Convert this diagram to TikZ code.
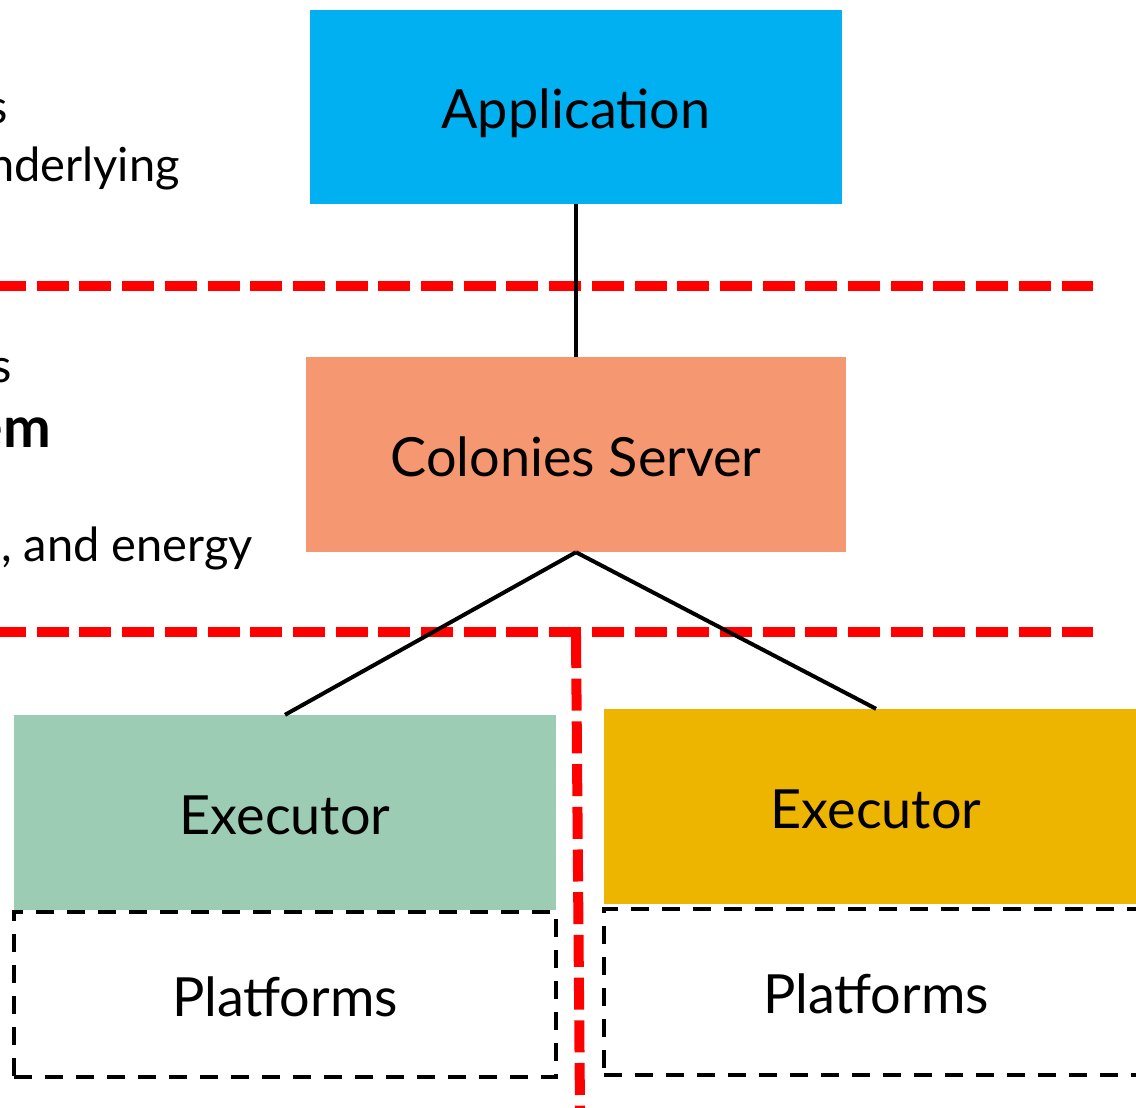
\documentclass[tikz,border=0pt]{standalone}
\usepackage{fontspec}
\setmainfont{Lato}
\definecolor{appblue}{RGB}{0,176,240}
\definecolor{srvorange}{RGB}{245,152,113}
\definecolor{exgreen}{RGB}{157,204,181}
\definecolor{exyellow}{RGB}{237,181,0}
\definecolor{sepred}{RGB}{255,0,0}
\tikzset{
  box/.style={rectangle, draw=none, inner sep=0pt, text height=43pt, text depth=0pt, font=\fontsize{54}{60}\selectfont},
  platbox/.style={rectangle, draw=black, line width=4pt, dash pattern=on 18pt off 13pt, inner sep=0pt, text height=43pt, text depth=0pt, font=\fontsize{54}{60}\selectfont},
  link/.style={draw=black, line width=4pt},
  sep/.style={draw=sepred, line width=10pt, dash pattern=on 32pt off 10.7pt, dash phase=6pt},
  side/.style={inner sep=0pt, anchor=base east, font=\fontsize{47}{52}\selectfont},
}
\begin{document}
\begin{tikzpicture}[x=1pt,y=-1pt]
\useasboundingbox (0,0) rectangle (1136,1108);
\clip (0,0) rectangle (1136,1108);
% separators
\coordinate (s1l) at (0,286);   \coordinate (s1r) at (1093,286);
\coordinate (s2l) at (0,632);   \coordinate (s2r) at (1093,632);
\coordinate (vt) at (576,636);  \coordinate (vb) at (580,1110);
\draw[sep] (s1l) -- (s1r);
\draw[sep] (s2l) -- (s2r);
\draw[sep, dash phase=0pt] (vt) -- (vb);
% boxes
\node[box, fill=appblue, minimum width=532pt, minimum height=194pt] (app) at (576,107) {Application};
\node[box, fill=srvorange, minimum width=540pt, minimum height=195pt] (srv) at (576,454.5) {Colonies Server};
\node[box, fill=exgreen, minimum width=542pt, minimum height=195pt] (ex1) at (285,812.5) {Executor};
\node[box, fill=exyellow, minimum width=544pt, minimum height=195pt] (ex2) at (876,806.5) {Executor};
\node[platbox, minimum width=542pt, minimum height=165pt] (pl1) at (285,994.5) {Platforms};
\node[platbox, minimum width=544pt, minimum height=166pt] (pl2) at (876,992) {Platforms};
% connectors
\draw[link] (app.south) -- (srv.north);
\draw[link] (srv.south) -- (ex1.north);
\draw[link] (srv.south) -- (ex2.north);
% cropped side texts
\node[side] (t1) at (8,123) {s};
\node[side] (t2) at (180,181) {nderlying};
\node[side] (t3) at (12,382) {s};
\node[side, font=\fontsize{57}{60}\selectfont\bfseries] (t4) at (51,447) {em};
\node[side] (t5) at (253,561) {, and energy};
\end{tikzpicture}
\end{document}
